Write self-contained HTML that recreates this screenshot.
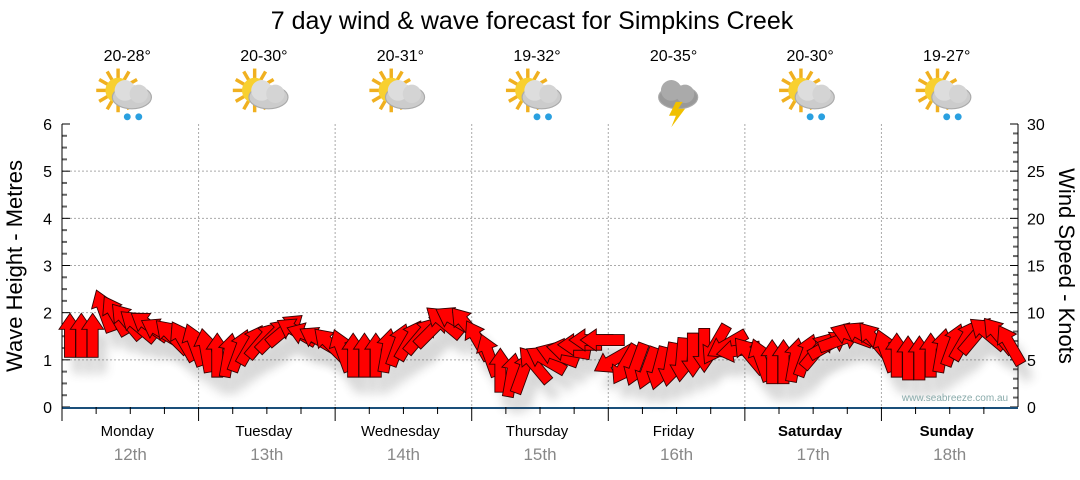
<!DOCTYPE html>
<html><head><meta charset="utf-8"><style>
body{margin:0;background:#fff;width:1080px;height:475px;overflow:hidden;font-family:"Liberation Sans",sans-serif}
</style></head><body>
<svg id="c" width="1080" height="475" style="font-family:'Liberation Sans',sans-serif">
<defs><filter id="sh" x="-50%" y="-50%" width="200%" height="200%"><feGaussianBlur stdDeviation="5"/></filter></defs>
<text x="532" y="29" text-anchor="middle" font-size="25" fill="#000">7 day wind &amp; wave forecast for Simpkins Creek</text>
<g id="grid"></g><g id="axes"></g><g id="shadows" opacity="0.22"></g><g id="arrows"></g><g id="topg"></g>
<text x="955" y="401" text-anchor="middle" font-size="10" fill="#8aa">www.seabreeze.com.au</text>
<text transform="translate(22,266) rotate(-90)" text-anchor="middle" font-size="22">Wave Height - Metres</text>
<text transform="translate(1059,266) rotate(90)" text-anchor="middle" font-size="22">Wind Speed - Knots</text>
</svg>
<script>
const days=["Monday","Tuesday","Wednesday","Thursday","Friday","Saturday","Sunday"];
const dates=["12th","13th","14th","15th","16th","17th","18th"];
const temps=["20-28°","20-30°","20-31°","19-32°","20-35°","20-30°","19-27°"];
const icons=["rain","cloud","cloud","rain","storm","rain","rain"];
const waveTicks=[0,1,2,3,4,5,6];
const windTicks=[0,5,10,15,20,25,30];
const windSpeed=[7.6,7.6,7.6,10.2,9.7,9.1,8.6,8.6,8,7.5,7,6.6,
6,5.5,5.5,6,6.6,7.1,7.6,8.2,8,7.6,7.1,6.6,
6,5.5,5.5,5.5,6,6.6,7.1,7.6,8.2,9,9.2,8.7,
7.1,5.5,3.9,3.4,3.7,4.5,5,5.5,6,6.6,7.1,7.1,
5,4.5,4.5,4.1,4.1,4.5,5,5.5,6,6.6,6.6,6,
5.5,5,4.8,4.8,5,5.5,6,6.6,7.1,7.6,7.6,7.1,
6,5.5,5.2,5.2,5.5,6,6.6,7.1,7.6,7.8,7.6,6.6];
const windDir=[0,0,0,-20,-30,-40,-50,-55,-60,-45,-30,-20,
-10,0,10,20,30,40,45,50,-60,-70,-60,-45,
-20,0,0,0,10,20,30,40,45,-50,-60,-40,
-30,-20,0,10,20,-40,-60,-70,-80,-90,-90,-90,
-120,-150,-160,-160,-165,-170,-175,180,180,-150,-120,-100,
-40,-20,0,0,10,20,40,60,70,-70,-60,-40,
-20,0,0,0,0,10,20,30,40,-50,-40,-30];
const NS='http://www.w3.org/2000/svg';
function mk(t,a,p){const e=document.createElementNS(NS,t);for(const k in a)e.setAttribute(k,a[k]);p.appendChild(e);return e;}
const X0=62,X1=1018,Y0=407,Y6=124;
const dayW=(X1-X0)/7;
const yWave=v=>Y0-(Y0-Y6)*v/6;
const yWind=v=>Y0-(Y0-Y6)*v/30;
const xT=i=>X0+8+(X1-X0-16)*i/83;
const gridG=document.getElementById('grid'),axesG=document.getElementById('axes'),topG=document.getElementById('topg');
waveTicks.forEach(v=>{if(v>0&&v<6){const l=mk('line',{x1:X0,x2:X1,y1:yWave(v),y2:yWave(v),stroke:'#aaa','stroke-dasharray':'2,2'},gridG);

}
const t=mk('text',{x:52,y:yWave(v)+6,'text-anchor':'end','font-size':16},axesG);t.textContent=v;

});
windTicks.forEach(v=>{const t=mk('text',{x:1027,y:yWind(v)+6,'font-size':16},axesG);t.textContent=v;

});
for(let k=0;k<=24;k++){const y=Y0-(Y0-Y6)*k/24;const L=k%4==0?8:5;
mk('line',{x1:X0,x2:X0+L,y1:y,y2:y,stroke:k%4?'#666':'#000','stroke-width':k%4?2:1},axesG);}
for(let k=0;k<=30;k++){const y=yWind(k);const L=k%5==0?8:5;mk('line',{x1:X1-L,x2:X1,y1:y,y2:y,stroke:k%5?'#666':'#000','stroke-width':k%5?2:1},axesG);}
mk('line',{x1:X0,x2:X0,y1:Y6,y2:Y0,stroke:'#000'},axesG);
mk('line',{x1:X1,x2:X1,y1:Y6,y2:Y0,stroke:'#000'},axesG);
mk('line',{x1:X0,x2:X1,y1:Y0+1,y2:Y0+1,stroke:'#1a4f7a','stroke-width':2},axesG);
for(let d=0;d<7;d++){const x=X0+d*dayW;
if(d>0){const g=mk('line',{x1:x,x2:x,y1:Y6,y2:Y0,stroke:'#aaa','stroke-dasharray':'2,2'},gridG);

}
mk('line',{x1:x,x2:x,y1:Y0,y2:Y0+14,stroke:'#000'},axesG);
for(let q=1;q<4;q++)mk('line',{x1:x+q*dayW/4,x2:x+q*dayW/4,y1:Y0,y2:Y0+7,stroke:'#000'},axesG);
const cx=x+dayW/2;
const a=mk('text',{x:cx-3,y:436,'text-anchor':'middle','font-size':15,'font-weight':d>=5?'bold':'normal'},axesG);a.textContent=days[d];


const b=mk('text',{x:cx,y:460,'text-anchor':'middle','font-size':17,fill:'#888'},axesG);b.textContent=dates[d];


const t=mk('text',{x:cx-3,y:61,'text-anchor':'middle','font-size':16},topG);t.textContent=temps[d];


const g=mk('g',{transform:`translate(${cx-3},95) scale(1.15)`},topG);


if(icons[d]!='storm'){for(let r=0;r<12;r++){const an=r*30*Math.PI/180;mk('line',{x1:-8+Math.cos(an)*10,y1:-4+Math.sin(an)*10,x2:-8+Math.cos(an)*19,y2:-4+Math.sin(an)*19,stroke:'#f0b020','stroke-width':3},g);}
mk('circle',{cx:-8,cy:-4,r:11,fill:'#f8d030'},g);}
mk('ellipse',{cx:4,cy:2,rx:17,ry:10,fill:icons[d]=='storm'?'#999':'#ccc',stroke:'#aaa'},g);
mk('circle',{cx:-2,cy:-4,r:9,fill:icons[d]=='storm'?'#aaa':'#ddd'},g);
mk('circle',{cx:10,cy:-1,r:8,fill:icons[d]=='storm'?'#aaa':'#d4d4d4'},g);
if(icons[d]=='rain'){mk('circle',{cx:0,cy:19,r:3,fill:'#2aa0e0'},g);mk('circle',{cx:10,cy:19,r:3,fill:'#2aa0e0'},g);}
if(icons[d]=='storm'){mk('polygon',{points:'2,6 -4,18 2,18 -2,28 10,12 4,12 8,6',fill:'#f0c000'},g);}
}
const arG=document.getElementById('arrows'),shG=document.getElementById('shadows');
const P='0,-22 11,-6 5.5,-6 5.5,22 -5.5,22 -5.5,-6 -11,-6';
windSpeed.forEach((v,i)=>{const x=xT(i),y=yWind(v);
mk('polygon',{points:P,transform:`translate(${x+8},${y+16}) rotate(${windDir[i]})`,fill:'#444',filter:'url(#sh)'},shG);
const p=mk('polygon',{points:P,transform:`translate(${x},${y}) rotate(${windDir[i]})`,fill:'#ff0000',stroke:'#300','stroke-width':0.9},arG);

});
</script>
</body></html>
